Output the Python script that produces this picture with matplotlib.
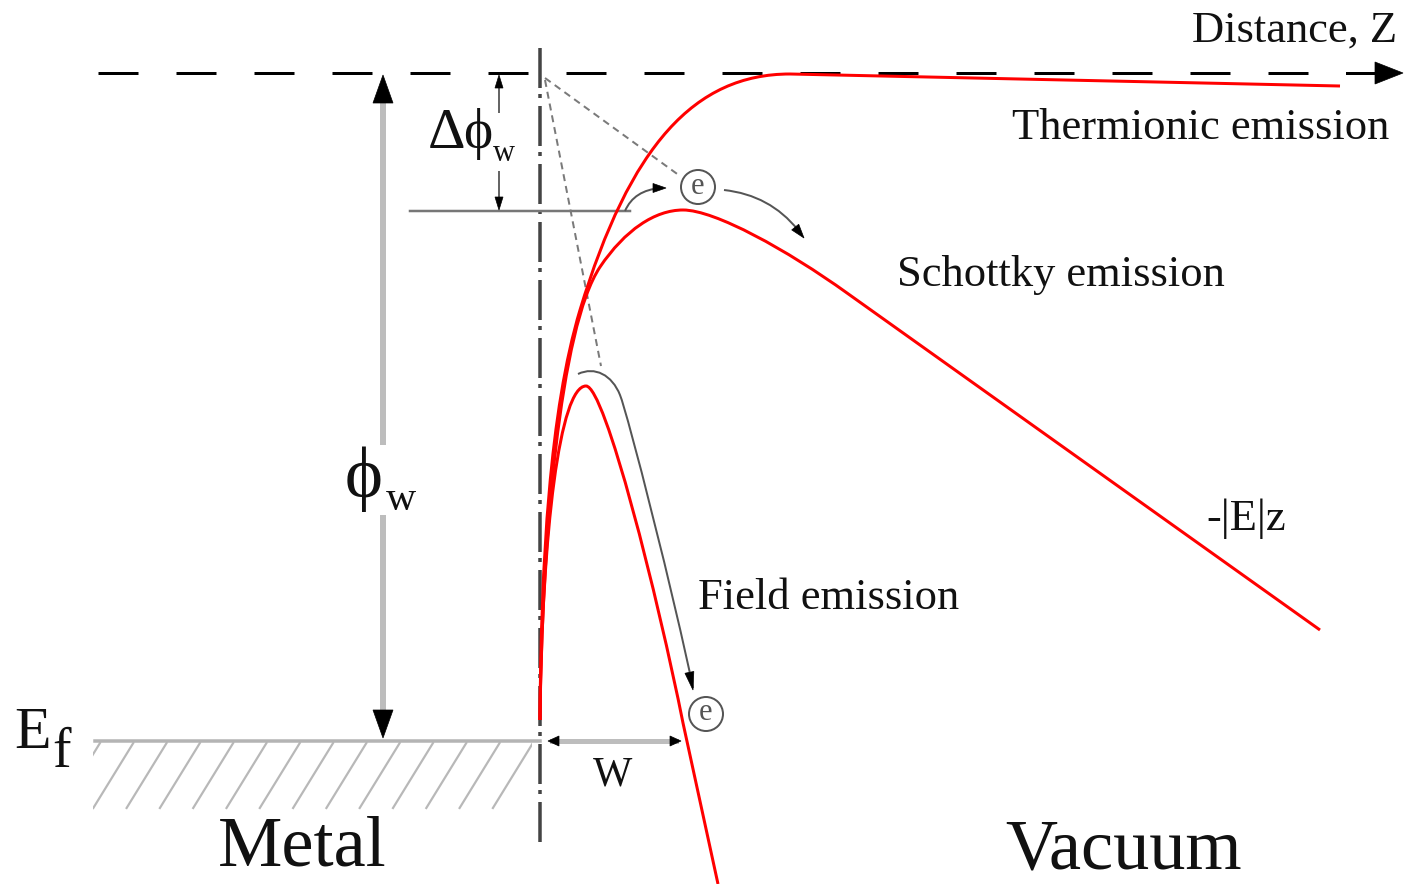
import numpy as np
import matplotlib
matplotlib.use("Agg")
import matplotlib.pyplot as plt
from matplotlib.path import Path
from matplotlib.patches import PathPatch, Polygon, Circle, Rectangle

plt.rcParams['lines.scale_dashes'] = False
SERIF = ['Liberation Serif', 'DejaVu Serif']

# ---------------------------------------------------------------
# geometry (pixel coords, y grows downward)
# ---------------------------------------------------------------
vac_level = 73          # vacuum level (top dashed line)
fermi_level = 741       # Ef
surface_x = 540         # metal surface (dash-dot line)
barrier_y = 211         # lowered barrier level (Schottky top)

# red energy curves: start point + cubic bezier triples + straight tail
thermionic_start = (540, 720)
thermionic_bez = [[(541, 560), (550, 410), (580, 310)],
                  [(630, 145), (695, 74), (790, 74)]]
thermionic_tail = (1340, 86)

schottky_start = (540, 720)
schottky_bez = [[(542, 540), (560, 327), (600, 267)],
                [(625, 230), (655, 210), (683, 210)],
                [(715, 210), (787, 250), (847, 293)]]
schottky_tail = (1320, 630)

field_start = (540, 720)
field_bez = [[(542, 530), (560, 386), (586, 386)],
             [(605, 386), (658, 598), (683, 723)]]
field_tail = (718, 884)

# electron path along the field emission barrier
tunnel_start = (578, 374)
tunnel_bez = [[(595, 366), (612, 375), (620, 395)],
              [(628, 415), (675, 600), (693, 688)]]

electron_pos = [(698, 187), (706, 714)]

labels = ["Distance, Z", "Thermionic emission", "Schottky emission",
          "Field emission", "-|E|z", "Metal", "Vacuum", "W"]
label_xy = [(1192, 42), (1012, 139), (897, 286), (698, 609),
            (1206, 530), (218, 865), (1005, 868), (593, 785)]
label_size = [32, 32, 32, 32, 32, 52, 52, 30]


def bez_path(start, segs, tail=None):
    verts = [start]
    codes = [Path.MOVETO]
    for s in segs:
        verts += s
        codes += [Path.CURVE4] * 3
    if tail is not None:
        verts.append(tail)
        codes.append(Path.LINETO)
    return Path(verts, codes)


def head(ax, tip, d, L, W, color='black'):
    d = np.array(d, float)
    d /= np.hypot(*d)
    n = np.array([-d[1], d[0]])
    tip = np.array(tip, float)
    base = tip - L * d
    ax.add_patch(Polygon([tip, base + W / 2 * n, base - W / 2 * n],
                         closed=True, fc=color, ec=color, lw=0.5, zorder=6))


#--------------------------------------------------
fig = plt.figure(figsize=(14.07, 8.84), dpi=100)
ax = fig.add_axes([0, 0, 1, 1])
ax.set_xlim(0, 1407)
ax.set_ylim(884, 0)
ax.axis('off')

px = 72.0 / 100.0   # pixel -> point

# vacuum level dashed line with arrow
ax.plot([98, 1340], [vac_level, vac_level], color='black', lw=3 * px,
        dashes=(40 * px, 38 * px), zorder=3)
ax.plot([1347, 1380], [vac_level, vac_level], color='black', lw=3 * px, zorder=3)
head(ax, (1403, vac_level), (1, 0), 28, 22)

# surface dash-dot line
ax.plot([surface_x, surface_x], [48, 848], color='#444444', lw=3.5 * px,
        dashes=(40 * px, 6 * px, 4 * px, 8 * px), zorder=2)

# Fermi level + hatching
ax.plot([95, surface_x], [fermi_level, fermi_level], color='#b4b4b4', lw=3.5 * px, zorder=2)
clip = Rectangle((93, 740), surface_x - 8 - 93, 70, transform=ax.transData)
for tx in np.arange(100, 540, 33.3):
    ln, = ax.plot([tx, tx - 40], [743, 808], color='#b8b8b8', lw=2.2 * px, zorder=1)
    ln.set_clip_path(clip)

# barrier level line
ax.plot([410, 630], [barrier_y, barrier_y], color='#777777', lw=2.5 * px, zorder=2)

# phi_w double arrow (gray shaft, black heads)
ax.plot([383, 383], [95, 442], color='#bdbdbd', lw=6 * px, zorder=2)
ax.plot([383, 383], [518, 718], color='#bdbdbd', lw=6 * px, zorder=2)
head(ax, (383, 75), (0, -1), 28, 20)
head(ax, (383, 738), (0, 1), 28, 20)

# delta phi_w double arrow
ax.plot([499, 499], [85, 112], color='#666666', lw=2 * px, zorder=2)
ax.plot([499, 499], [172, 200], color='#666666', lw=2 * px, zorder=2)
head(ax, (499, 75), (0, -1), 13, 8)
head(ax, (499, 210), (0, 1), 13, 8)

# W double arrow
ax.plot([552, 676], [fermi_level, fermi_level], color='#bdbdbd', lw=5 * px, zorder=2)
head(ax, (548, fermi_level), (-1, 0), 11, 10)
head(ax, (681, fermi_level), (1, 0), 11, 10)

# gray dashed guide lines from the vacuum level corner
ax.plot([545, 680], [78, 176], color='#7a7a7a', lw=2 * px, dashes=(7 * px, 5 * px), zorder=2)
ax.plot([545, 601], [80, 366], color='#7a7a7a', lw=2 * px, dashes=(7 * px, 5 * px), zorder=2)

# red energy curves
for start, segs, tail in [(thermionic_start, thermionic_bez, thermionic_tail),
                          (schottky_start, schottky_bez, schottky_tail),
                          (field_start, field_bez, field_tail)]:
    ax.add_patch(PathPatch(bez_path(start, segs, tail), fill=False,
                           ec='#ff0000', lw=3 * px, zorder=4))

# electron paths (gray, with arrowheads)
ax.add_patch(PathPatch(bez_path(tunnel_start, tunnel_bez), fill=False,
                       ec='#555555', lw=2 * px, zorder=3))
head(ax, (693, 690), (18, 88), 18, 9)

ax.add_patch(PathPatch(Path([(625, 211), (634, 190), (661, 188)],
                            [Path.MOVETO, Path.CURVE3, Path.CURVE3]),
                       fill=False, ec='#555555', lw=2 * px, zorder=3))
head(ax, (666, 188), (1, 0), 13, 9)

ax.add_patch(PathPatch(Path([(724, 190), (770, 195), (798, 230)],
                            [Path.MOVETO, Path.CURVE3, Path.CURVE3]),
                       fill=False, ec='#555555', lw=2 * px, zorder=3))
head(ax, (804, 238), (33, 41), 14, 9)

# electrons
for (ex, ey) in electron_pos:
    ax.add_patch(Circle((ex, ey), 17, fill=False, ec='#555555', lw=2 * px, zorder=5))
    ax.text(ex, ey - 1, "e", fontsize=22, family=SERIF, color='#555555',
            ha='center', va='center', zorder=6)

# labels
for s, (x, y), fs in zip(labels, label_xy, label_size):
    ax.text(x, y, s, fontsize=fs, family=SERIF, color='#111111',
            ha='left', va='baseline')

# symbols
ax.text(14, 748, "E", fontsize=43, family=SERIF, color='#111111', va='baseline')
ax.text(52, 767, "f", fontsize=40, family=SERIF, color='#111111', va='baseline')

ax.text(345, 497, "\u03d5", fontsize=52, family=SERIF, color='#111111', va='baseline')
ax.text(386, 510, "w", fontsize=30, family=SERIF, color='#111111', va='baseline')

ax.text(428, 148, "\u0394", fontsize=42, family=SERIF, color='#111111', va='baseline')
ax.text(463, 148, "\u03d5", fontsize=40, family=SERIF, color='#111111', va='baseline')
ax.text(493, 161, "w", fontsize=22, family=SERIF, color='#111111', va='baseline')

fig.savefig('out.png', dpi=100)
